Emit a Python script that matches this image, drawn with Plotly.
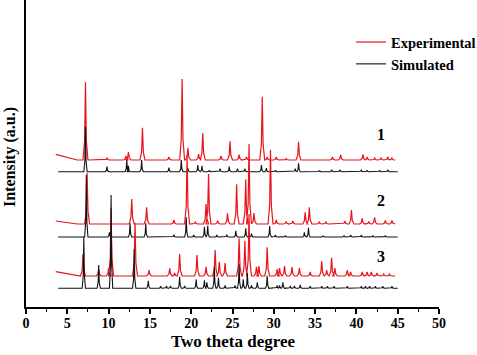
import plotly.graph_objects as go

# ---------------- data (2-theta positions, peak heights above each baseline) ----------------
# Pattern 1
p1_exp_pos = [7.2, 9.8, 12.1, 12.4, 14.1, 17.3, 18.9, 19.6, 20.9, 21.4, 23.6, 24.7, 25.8, 26.7,
              28.6, 29.2, 30.3, 31.5, 33.0, 37.1, 38.1, 40.8, 41.3, 42.2, 43.0, 43.8, 44.3]
p1_exp_h = [77.7, 2.3, 4, 8, 32.3, 3, 81, 12.3, 6, 27, 4, 18.7, 5.3, 3,
            63.3, 3, 3, 1.5, 18.3, 3, 5, 5.7, 3, 2, 2, 3, 2]
p1_sim_pos = [7.2, 9.8, 12.2, 12.4, 14.0, 17.3, 18.8, 19.6, 20.8, 21.3, 22.2, 23.5, 24.6, 25.6,
              26.5, 28.5, 29.1, 30.2, 32.6, 33.0, 35.5, 37.0, 38.0, 40.6, 41.3, 42.8, 43.8]
p1_sim_h = [45, 5, 11.7, 6, 11.7, 4, 11.7, 3.5, 6.7, 6, 1.5, 3, 5, 3,
            3, 6.7, 3.5, 1.5, 3, 8.3, 1, 2, 2, 2, 1.5, 1.5, 2]

# Pattern 2
p2_exp_pos = [7.4, 12.8, 14.6, 17.9, 19.5, 20.5, 21.8, 22.1, 23.2, 24.4, 25.5, 26.6, 27.0, 27.6,
              29.6, 30.3, 31.5, 32.3, 33.8, 34.3, 35.5, 36.3, 38.6, 39.4, 40.7, 41.5, 42.2, 43.5, 44.3]
p2_exp_h = [51, 25, 16.7, 4, 69, 2, 20, 50, 3.3, 10.7, 39.7, 44.7, 80, 11,
            74, 4, 2.5, 3, 11.7, 16.7, 2, 2, 3, 14, 5.7, 2.5, 6.7, 3.5, 3.5]
p2_sim_pos = [7.3, 10.1, 12.6, 14.5, 17.9, 19.4, 20.3, 21.6, 22.0, 23.1, 24.3, 25.4, 26.6, 27.3,
              29.5, 30.2, 31.4, 33.7, 34.2, 36.0, 38.5, 39.3, 40.6, 42.0, 43.5]
p2_sim_h = [62, 4.7, 13.7, 13.7, 2.3, 19.7, 2, 10.3, 11.3, 2, 2.3, 6.3, 8.7, 3.3,
            11, 2, 1.5, 4.7, 9.3, 1, 1.5, 2, 2, 1.5, 1.5]

# Pattern 3
p3_exp_pos = [6.9, 8.8, 10.0, 10.3, 13.2, 14.9, 17.4, 18.0, 18.6, 20.7, 21.8, 22.9, 23.4, 24.1,
              25.8, 26.5, 27.0, 27.9, 28.2, 29.2, 30.4, 30.7, 31.3, 32.2, 33.1, 34.4, 35.8, 36.4,
              37.0, 37.4, 38.9, 39.3, 40.7, 41.3, 41.8, 42.5, 43.3, 44.0]
p3_exp_h = [22, 7, 8, 68, 53, 6, 7.7, 3, 22, 21, 9.3, 26, 14.3, 13,
            37.7, 35.3, 62, 9.3, 10, 28.7, 7, 8, 10, 9, 8, 4, 15, 6,
            18.3, 8, 6, 4, 4, 4, 4, 3, 2, 2]
p3_sim_pos = [7.0, 8.8, 10.3, 13.1, 14.8, 16.3, 17.0, 17.5, 18.6, 19.2, 20.6, 21.6, 21.9, 22.8,
              23.3, 24.1, 25.3, 25.8, 26.3, 26.8, 27.3, 28.0, 29.2, 30.4, 30.7, 31.1, 32.0, 32.5,
              33.2, 34.4, 35.8, 36.5, 37.3, 38.9, 40.6, 41.1, 41.6, 42.3, 43.2, 44.3]
p3_sim_h = [51.6, 23.3, 93.3, 39, 7.6, 2, 2.5, 2.5, 11.6, 2.5, 9, 8, 6, 21.6,
            10.6, 3, 3, 24, 9, 15.6, 3, 6, 12.6, 3, 3, 6, 2.5, 2.5,
            3.5, 2, 2, 2, 2, 2, 2, 2, 2, 2, 2, 2]

# baselines: start level of experimental traces, then flat levels
exp_start_level = [152.7, 86.0, 35.3]
exp_base = [147.0, 83.0, 31.0]
sim_base = [135.3, 70.0, 18.7]
exp_range = [3.6, 44.7]
sim_range = [3.9, 45.0]

x_ticks = [0, 5, 10, 15, 20, 25, 30, 35, 40, 45, 50]
labels = ["1", "2", "3"]
label_x = 43.0
label_y = [172.7, 107.0, 50.3]

RED = "#e8141b"
BLACK = "#111111"
FONT = "Liberation Serif"


def build(pos, h, base, x0, x1, hw, start_level=None):
    xs, ys = [x0], [start_level if start_level is not None else base]
    if start_level is not None:
        xs.append(6.2)
        ys.append(base)
    for p, v in zip(pos, h):
        # narrow peak: foot, shoulder, apex, shoulder, foot
        xs += [p - hw, p - hw * 0.35, p, p + hw * 0.35, p + hw]
        ys += [base, base + v * 0.25, base + v, base + v * 0.25, base]
    xs.append(x1)
    ys.append(base)
    return xs, ys


fig = go.Figure()
sets = [
    (p1_exp_pos, p1_exp_h, p1_sim_pos, p1_sim_h),
    (p2_exp_pos, p2_exp_h, p2_sim_pos, p2_sim_h),
    (p3_exp_pos, p3_exp_h, p3_sim_pos, p3_sim_h),
]
for i, (ep, eh, sp, sh) in enumerate(sets):
    x, y = build(ep, eh, exp_base[i], exp_range[0], exp_range[1], 0.3, exp_start_level[i])
    fig.add_trace(go.Scatter(x=x, y=y, mode="lines", line=dict(color=RED, width=1.2),
                             name="Experimental", legendgroup="exp", showlegend=(i == 0)))
    x, y = build(sp, sh, sim_base[i], sim_range[0], sim_range[1], 0.2)
    fig.add_trace(go.Scatter(x=x, y=y, mode="lines", line=dict(color=BLACK, width=1.1),
                             name="Simulated", legendgroup="sim", showlegend=(i == 0)))

for i, lab in enumerate(labels):
    fig.add_annotation(x=label_x, y=label_y[i], text="<b>%s</b>" % lab, showarrow=False,
                       font=dict(family=FONT, size=16, color="black"))

# axis titles placed in paper coordinates
fig.add_annotation(x=0.5, y=-0.076, xref="paper", yref="paper", yanchor="top", xanchor="center",
                   text="<b>Two theta degree</b>", showarrow=False,
                   font=dict(family=FONT, size=17, color="black"))
fig.add_annotation(x=-0.04, y=0.49, xref="paper", yref="paper", textangle=-90,
                   xanchor="center", yanchor="middle",
                   text="<b>Intensity (a.u.)</b>", showarrow=False,
                   font=dict(family=FONT, size=16, color="black"))

fig.update_layout(
    width=477, height=355,
    margin=dict(l=26, r=38, t=0, b=48, autoexpand=False),
    paper_bgcolor="white", plot_bgcolor="white",
    font=dict(family=FONT, color="black"),
    legend=dict(x=0.787, y=0.915, xanchor="left", yanchor="top",
                bgcolor="rgba(0,0,0,0)", font=dict(size=14.5, family=FONT, weight="bold"),
                itemwidth=30, tracegroupgap=0),
)
fig.update_xaxes(range=[0, 50], tickvals=x_ticks, ticktext=["<b>%d</b>" % t for t in x_ticks],
                 ticks="outside", ticklen=5, tickwidth=1.5, tickcolor="black", ticklabelstandoff=-3,
                 minor=dict(dtick=2.5, ticks="outside", ticklen=3, tickwidth=1.2, tickcolor="black"),
                 showline=True, linecolor="black", linewidth=2, showgrid=False, zeroline=False,
                 tickfont=dict(size=14, family=FONT), automargin=False)
fig.update_yaxes(range=[0, 307], showticklabels=False, ticks="", showline=True, linecolor="black",
                 linewidth=2, showgrid=False, zeroline=False, automargin=False)

fig.write_html("out.html", config={"displayModeBar": False},
               post_script="document.body.style.margin='0';")
